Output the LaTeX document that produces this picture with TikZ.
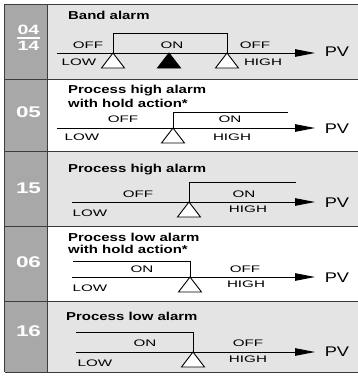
\documentclass[tikz,border=0pt]{standalone}
\usepackage{fontspec}
\setmainfont{Liberation Sans}
\newfontfamily\headfont[FakeStretch=1.3]{Liberation Sans}
\newfontfamily\codefont[FakeStretch=1.45]{Liberation Sans}
\newfontfamily\tagfont[FakeStretch=1.6]{Liberation Sans}
\newfontfamily\pvfont[FakeStretch=1.3]{Liberation Sans}
\usepackage{tikz}
\usetikzlibrary{arrows.meta}
\definecolor{codegray}{HTML}{A7A8A7}
\definecolor{rowgray}{HTML}{E4E4E4}
\definecolor{rulegray}{HTML}{3C3C3C}
\tikzset{
  alarmcode/.style={
    text=white,
    inner sep=0pt,
    font=\codefont\bfseries\fontsize{15.5}{16}\selectfont
  },
  alarmcodesmall/.style={
    alarmcode,
    font=\codefont\bfseries\fontsize{13.5}{14}\selectfont
  },
  alarmtitle/.style={
    anchor=base west,
    inner sep=0pt,
    font=\headfont\bfseries\fontsize{11.5}{12}\selectfont
  },
  alarmtag/.style={
    inner sep=0pt,
    font=\tagfont\fontsize{9.5}{10}\selectfont
  },
  pvtag/.style={
    inner sep=0pt,
    font=\pvfont\fontsize{14}{15}\selectfont
  },
  pvaxis/.style={
    line width=0.9pt,
    -{Triangle[length=20pt,width=7.5pt]}
  },
  stepline/.style={
    line width=0.9pt
  },
  gridrule/.style={
    draw=rulegray,
    line width=1pt
  },
  setmark/.pic={
    \draw[line width=0.9pt, fill=white] (0,0) -- (-11.5pt,-15pt) -- (11.5pt,-15pt) -- cycle;
  },
  midmark/.pic={
    \draw[line width=0.9pt, fill=black] (0,0) -- (-11.5pt,-15pt) -- (11.5pt,-15pt) -- cycle;
  }
}
\begin{document}
\begin{tikzpicture}[x=1pt,y=-1pt]
    \useasboundingbox (0,0) rectangle (358,376);

    \fill[rowgray] (47,4) rectangle (358,79);
    \fill[white] (47,79) rectangle (358,151);
    \fill[rowgray] (47,151) rectangle (358,226);
    \fill[white] (47,226) rectangle (358,301);
    \fill[rowgray] (47,301) rectangle (358,372);
    \fill[codegray] (5,4) rectangle (47,372);
    \foreach \y in {4,79,151,226,301,372}
      \draw[gridrule] (5,\y) -- (358,\y);
    \draw[gridrule] (5,4) -- (5,372);
    \draw[gridrule] (47,4) -- (47,372);

    % band alarm
    \node[alarmcodesmall] (code1a) at (28.5,30) {04};
    \node[alarmcodesmall] (code1b) at (28.5,46) {14};
    \draw[white, line width=1.3pt] (17,38) -- (40,38);
    \node[alarmtitle] (title1) at (68,19) {Band alarm};
    \coordinate (axis1) at (57,53);
    \coordinate (tip1) at (315,53);
    \node[pvtag] (pv1) at (337,52) {PV};
    \draw[pvaxis] (axis1) -- (tip1);
    \coordinate (low1) at (113,53);
    \coordinate (high1) at (227,53);
    \coordinate (top1) at (227,33);
    \draw[stepline] (low1) |- (top1) -- (high1);
    \pic at (low1) {setmark};
    \pic at (high1) {setmark};
    \pic at (169,53) {midmark};
    \node[alarmtag] (off1a) at (88,45) {OFF};
    \node[alarmtag] (on1) at (172,45) {ON};
    \node[alarmtag] (off1b) at (255,45) {OFF};
    \node[alarmtag] (low1t) at (79,62) {LOW};
    \node[alarmtag] (high1t) at (263,62) {HIGH};

    % process high alarm with hold
    \node[alarmcode] (code2) at (28.5,112) {05};
    \node[alarmtitle] (title2a) at (68,93) {Process high alarm};
    \node[alarmtitle] (title2b) at (68,107) {with hold action*};
    \coordinate (axis2) at (57,128);
    \coordinate (tip2) at (315,128);
    \node[pvtag] (pv2) at (337,129) {PV};
    \draw[pvaxis] (axis2) -- (tip2);
    \coordinate (set2) at (173,128);
    \coordinate (top2) at (288,112);
    \draw[stepline] (set2) |- (top2);
    \pic at (set2) {setmark};
    \node[alarmtag] (off2) at (123,119.5) {OFF};
    \node[alarmtag] (on2) at (230,119.5) {ON};
    \node[alarmtag] (low2t) at (82,137) {LOW};
    \node[alarmtag] (high2t) at (232,137) {HIGH};

    % process high alarm
    \node[alarmcode] (code3) at (28.5,188) {15};
    \node[alarmtitle] (title3) at (68,172) {Process high alarm};
    \coordinate (axis3) at (72,202);
    \coordinate (tip3) at (315,202);
    \node[pvtag] (pv3) at (337,203) {PV};
    \draw[pvaxis] (axis3) -- (tip3);
    \coordinate (set3) at (189,202);
    \coordinate (top3) at (296,182);
    \draw[stepline] (set3) |- (top3);
    \pic at (set3) {setmark};
    \node[alarmtag] (off3) at (138,194.5) {OFF};
    \node[alarmtag] (on3) at (244,194.5) {ON};
    \node[alarmtag] (low3t) at (90,213.5) {LOW};
    \node[alarmtag] (high3t) at (248,209) {HIGH};

    % process low alarm with hold
    \node[alarmcode] (code4) at (28.5,262) {06};
    \node[alarmtitle] (title4a) at (68,241) {Process low alarm};
    \node[alarmtitle] (title4b) at (68,253) {with hold action*};
    \coordinate (axis4) at (72,277);
    \coordinate (tip4) at (315,277);
    \node[pvtag] (pv4) at (337,278) {PV};
    \draw[pvaxis] (axis4) -- (tip4);
    \coordinate (set4) at (190,277);
    \coordinate (top4) at (73,261);
    \draw[stepline] (set4) |- (top4);
    \pic at (set4) {setmark};
    \node[alarmtag] (on4) at (142,269.5) {ON};
    \node[alarmtag] (off4) at (245,269.5) {OFF};
    \node[alarmtag] (low4t) at (90,288) {LOW};
    \node[alarmtag] (high4t) at (246,284) {HIGH};

    % process low alarm
    \node[alarmcode] (code5) at (28.5,331) {16};
    \node[alarmtitle] (title5) at (66,320) {Process low alarm};
    \coordinate (axis5) at (76,352);
    \coordinate (tip5) at (315,352);
    \node[pvtag] (pv5) at (337,352) {PV};
    \draw[pvaxis] (axis5) -- (tip5);
    \coordinate (set5) at (193,352);
    \coordinate (top5) at (76,332);
    \draw[stepline] (set5) |- (top5);
    \pic at (set5) {setmark};
    \node[alarmtag] (on5) at (145,343.5) {ON};
    \node[alarmtag] (off5) at (248,343.5) {OFF};
    \node[alarmtag] (low5t) at (95,363) {LOW};
    \node[alarmtag] (high5t) at (248,359) {HIGH};
\end{tikzpicture}
\end{document}
